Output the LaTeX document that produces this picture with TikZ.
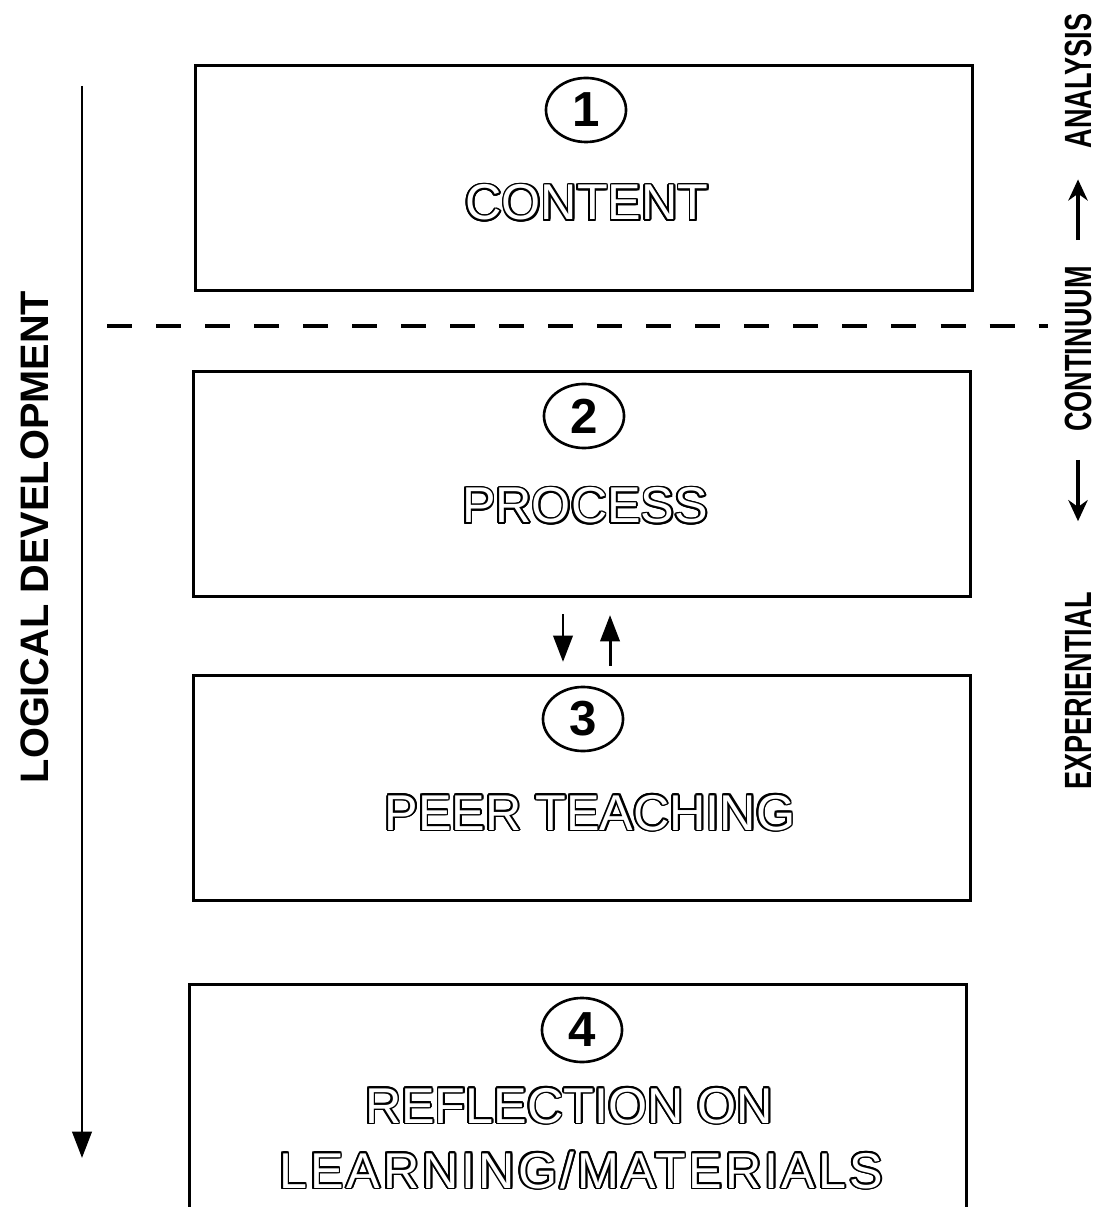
\documentclass[tikz,border=0pt]{standalone}
\usepackage{fontspec}
\setmainfont{Liberation Sans}
\usepackage{contour}
\usetikzlibrary{shapes,arrows.meta}
\contourlength{0.5pt}
\newcommand{\hollow}[1]{\textcolor{white}{\contour{black}{#1}}}

\begin{document}
\begin{tikzpicture}[x=0.01cm,y=-0.01cm,>={Triangle[width=5.5pt,length=7.5pt]},
                    line width=0.85pt,
                    box/.style={draw,minimum width=7.76cm,minimum height=2.25cm},
                    num/.style={draw,ellipse,line width=0.75pt,minimum width=0.8cm,
                                minimum height=0.64cm,inner sep=0pt,
                                font=\bfseries\fontsize{14}{14}\selectfont},
                    title/.style={anchor=base,inner sep=0pt,
                                  font=\fontsize{14.3}{16}\selectfont},
                    side/.style={rotate=90,font=\bfseries\fontsize{7.7}{8}\selectfont}]
  \useasboundingbox (0,0) rectangle (1098,1207);

  % the four stages
  \node[box] (content) at (584,178)  {};
  \node[box] (process) at (582,484)  {};
  \node[box] (peer)    at (582,788)  {};
  \node[box,minimum height=2.6cm] (reflect) at (578,1115) {};

  \node[num] at (586,110)  {1};
  \node[num] at (584,416)  {2};
  \node[num] at (583,719)  {3};
  \node[num] at (582,1030) {4};

  \node[title] at (587,220)  {\hollow{CONTENT}};
  \node[title] at (585,523)  {\hollow{PROCESS}};
  \node[title] at (590,830)  {\hollow{PEER TEACHING}};
  \node[title] at (569,1123) {\hollow{REFLECTION ON}};
  \node[title] at (581,1188) {\addfontfeature{LetterSpace=6}\hollow{LEARNING/MATERIALS}};

  \draw[->] ([xshift=-0.19cm,yshift=-0.16cm]process.south)
         -- ([xshift=-0.19cm,yshift=0.12cm]peer.north);
  \draw[->] ([xshift=0.28cm,yshift=0.08cm]peer.north)
         -- ([xshift=0.28cm,yshift=-0.17cm]process.south);

  % split between content and the rest
  \coordinate (dashL) at (107,326);
  \coordinate (dashR) at (1048,326);
  \draw[line width=1.1pt,dash pattern=on 0.25cm off 0.24cm] (dashL) -- (dashR);

  % logical development
  \coordinate (ldTop) at (82,86);
  \coordinate (ldEnd) at (82,1158);
  \draw[->] (ldTop) -- (ldEnd);
  \node[rotate=90,font=\bfseries\fontsize{11.3}{12}\selectfont] (logic) at (35,537)
       {LOGICAL DEVELOPMENT};

  % continuum
  \node[side] (ana)  at (1078,81)  {\scalebox{1}[1.4]{ANALYSIS}};
  \node[side] (cont) at (1078,349) {\scalebox{1}[1.4]{CONTINUUM}};
  \node[side] (exp)  at (1078,691) {\scalebox{1}[1.4]{EXPERIENTIAL}};
  \draw[-{Stealth[width=5.5pt,length=6pt]},line width=1.1pt,
        shorten <=0.13cm,shorten >=0.18cm] (cont.east) -- (ana.west);
  \draw[-{Stealth[width=5.5pt,length=6pt]},line width=1.1pt,
        shorten <=0.15cm,shorten >=0.58cm] (cont.west) -- (exp.east);
\end{tikzpicture}
\end{document}
